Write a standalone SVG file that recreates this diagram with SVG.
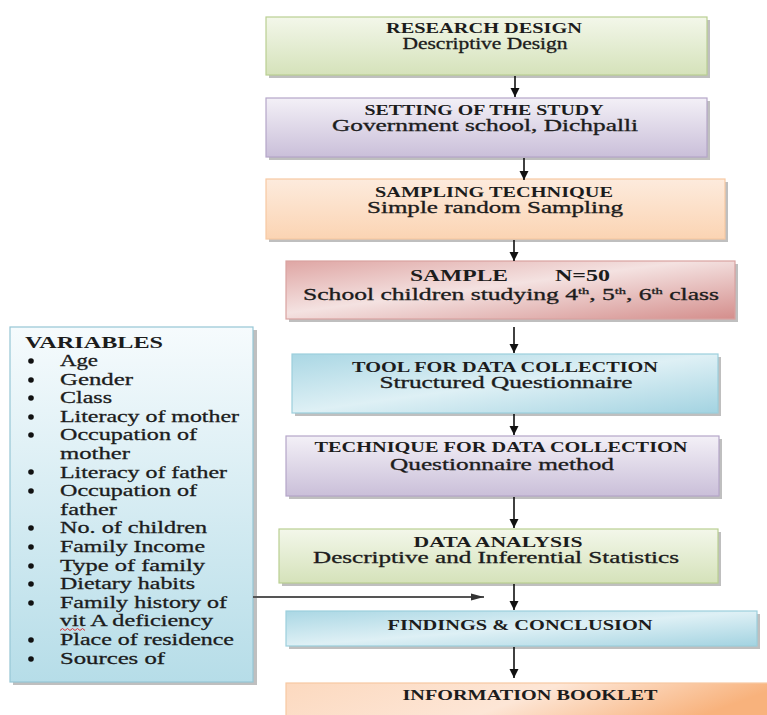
<svg xmlns="http://www.w3.org/2000/svg" width="767" height="715" viewBox="0 0 767 715">
<style>
text{font-family:"Liberation Serif","Times New Roman",serif;fill:#1c1c1c}
.h{font-weight:bold;font-size:15px}
.s{font-size:16px;stroke:#1c1c1c;stroke-width:0.3}
.v{font-size:17px;stroke:#1c1c1c;stroke-width:0.3}
.sh{fill:#8a8a8a;opacity:.55}
.bd{stroke-width:1.2}
.ar{stroke:#111;stroke-width:1.6;fill:none}
</style>
<defs>
<linearGradient id="gG" x1="0" y1="0" x2="0" y2="1"><stop offset="0" stop-color="#f3f7ea"/><stop offset="1" stop-color="#d5e2ba"/></linearGradient>
<linearGradient id="gP" x1="0" y1="0" x2="0" y2="1"><stop offset="0" stop-color="#f3f0f7"/><stop offset="1" stop-color="#cabfd9"/></linearGradient>
<linearGradient id="gO" x1="0" y1="0" x2="0" y2="1"><stop offset="0" stop-color="#fdebdd"/><stop offset="1" stop-color="#fbd4b3"/></linearGradient>
<linearGradient id="gO2" x1="0" y1="0" x2="1" y2="0.2"><stop offset="0" stop-color="#fcd9bf"/><stop offset="0.55" stop-color="#fde6d6"/><stop offset="1" stop-color="#f8b27c"/></linearGradient>
<linearGradient id="gR" x1="0" y1="0" x2="1" y2="1"><stop offset="0" stop-color="#dfa6a4"/><stop offset="0.45" stop-color="#f4e2e1"/><stop offset="1" stop-color="#d48e8c"/></linearGradient>
<linearGradient id="gB" x1="0" y1="0" x2="1" y2="1"><stop offset="0" stop-color="#aad7e4"/><stop offset="0.5" stop-color="#def0f5"/><stop offset="1" stop-color="#a3d3e1"/></linearGradient>
<linearGradient id="gV" x1="0" y1="0" x2="0" y2="1"><stop offset="0" stop-color="#f6fbfd"/><stop offset="1" stop-color="#b6dde8"/></linearGradient>
<marker id="ah" markerWidth="10" markerHeight="10" refX="9" refY="5" orient="auto" markerUnits="userSpaceOnUse"><path d="M0,0.5 L9,5 L0,9.5 Z" fill="#111"/></marker>
<marker id="ahg" markerWidth="14" markerHeight="10" refX="13" refY="5" orient="auto" markerUnits="userSpaceOnUse"><path d="M0,1.5 L13,5 L0,8.5 Z" fill="#333"/></marker>
</defs>
<rect width="767" height="715" fill="#ffffff"/>

<g id="variables">
<rect class="sh" x="13" y="330" width="244" height="355"/>
<rect x="10" y="327" width="243" height="355" fill="url(#gV)" stroke="#96c6d5" class="bd"/>
<text x="25" y="348" font-weight="bold" font-size="17" textLength="138" lengthAdjust="spacingAndGlyphs">VARIABLES</text>
<g fill="#111">
<circle cx="31" cy="361" r="2.8"/><circle cx="31" cy="380" r="2.8"/><circle cx="31" cy="398" r="2.8"/><circle cx="31" cy="417" r="2.8"/><circle cx="31" cy="435" r="2.8"/><circle cx="31" cy="472" r="2.8"/><circle cx="31" cy="491" r="2.8"/><circle cx="31" cy="528" r="2.8"/><circle cx="31" cy="547" r="2.8"/><circle cx="31" cy="566" r="2.8"/><circle cx="31" cy="584" r="2.8"/><circle cx="31" cy="603" r="2.8"/><circle cx="31" cy="640" r="2.8"/><circle cx="31" cy="659" r="2.8"/>
</g>
<text class="v" x="60" y="366" textLength="38" lengthAdjust="spacingAndGlyphs">Age</text>
<text class="v" x="60" y="384.6" textLength="73" lengthAdjust="spacingAndGlyphs">Gender</text>
<text class="v" x="60" y="403.2" textLength="52" lengthAdjust="spacingAndGlyphs">Class</text>
<text class="v" x="60" y="421.8" textLength="179" lengthAdjust="spacingAndGlyphs">Literacy of mother</text>
<text class="v" x="60" y="440.4" textLength="137" lengthAdjust="spacingAndGlyphs">Occupation of</text>
<text class="v" x="60" y="459" textLength="70" lengthAdjust="spacingAndGlyphs">mother</text>
<text class="v" x="60" y="477.6" textLength="167" lengthAdjust="spacingAndGlyphs">Literacy of father</text>
<text class="v" x="60" y="496.2" textLength="137" lengthAdjust="spacingAndGlyphs">Occupation of</text>
<text class="v" x="60" y="514.8" textLength="57" lengthAdjust="spacingAndGlyphs">father</text>
<text class="v" x="60" y="533.4" textLength="147" lengthAdjust="spacingAndGlyphs">No. of children</text>
<text class="v" x="60" y="552" textLength="145" lengthAdjust="spacingAndGlyphs">Family Income</text>
<text class="v" x="60" y="570.6" textLength="145" lengthAdjust="spacingAndGlyphs">Type of family</text>
<text class="v" x="60" y="589.2" textLength="135" lengthAdjust="spacingAndGlyphs">Dietary habits</text>
<text class="v" x="60" y="607.8" textLength="167" lengthAdjust="spacingAndGlyphs">Family history of</text>
<text class="v" x="60" y="626.4" textLength="153" lengthAdjust="spacingAndGlyphs">vit A deficiency</text>
<path d="M60,630.5 l2.5,-2 l2.5,2 l2.5,-2 l2.5,2 l2.5,-2 l2.5,2 l2.5,-2 l2.5,2 l2.5,-2 l2.5,2" fill="none" stroke="#e03030" stroke-width="1"/>
<text class="v" x="60" y="645" textLength="174" lengthAdjust="spacingAndGlyphs">Place of residence</text>
<text class="v" x="60" y="663.6" textLength="105" lengthAdjust="spacingAndGlyphs">Sources of</text>
</g>

<g id="research-design">
<rect class="sh" x="269" y="20" width="441" height="58"/>
<rect x="266" y="17" width="441" height="58" fill="url(#gG)" stroke="#b9cf92" class="bd"/>
<text class="h" x="484" y="33" text-anchor="middle" textLength="196" lengthAdjust="spacingAndGlyphs">RESEARCH DESIGN</text>
<text class="s" x="485" y="49" text-anchor="middle" textLength="165" lengthAdjust="spacingAndGlyphs">Descriptive Design</text>
</g>

<g id="setting">
<rect class="sh" x="269" y="101" width="441" height="59"/>
<rect x="266" y="98" width="441" height="59" fill="url(#gP)" stroke="#b5a6c9" class="bd"/>
<text class="h" x="484" y="115" text-anchor="middle" textLength="239" lengthAdjust="spacingAndGlyphs">SETTING OF THE STUDY</text>
<text class="s" x="485" y="131" text-anchor="middle" textLength="306" lengthAdjust="spacingAndGlyphs">Government school, Dichpalli</text>
</g>

<g id="sampling-technique">
<rect class="sh" x="269" y="182" width="459" height="60"/>
<rect x="266" y="179" width="459" height="60" fill="url(#gO)" stroke="#f7c9a2" class="bd"/>
<text class="h" x="494" y="197" text-anchor="middle" textLength="238" lengthAdjust="spacingAndGlyphs">SAMPLING TECHNIQUE</text>
<text class="s" x="495" y="213" text-anchor="middle" textLength="256" lengthAdjust="spacingAndGlyphs">Simple random Sampling</text>
</g>

<g id="sample">
<rect class="sh" x="289" y="264" width="449" height="58"/>
<rect x="286" y="261" width="449" height="58" fill="url(#gR)" stroke="#d9a2a0" class="bd"/>
<text x="410" y="281" font-weight="bold" font-size="16" textLength="98" lengthAdjust="spacingAndGlyphs">SAMPLE</text>
<text x="555" y="281" font-weight="bold" font-size="16" textLength="55" lengthAdjust="spacingAndGlyphs">N=50</text>
<text class="s" x="303" y="300" textLength="416" lengthAdjust="spacingAndGlyphs">School children studying 4<tspan font-size="9" dy="-6">th</tspan><tspan dy="6">, 5</tspan><tspan font-size="9" dy="-6">th</tspan><tspan dy="6">, 6</tspan><tspan font-size="9" dy="-6">th</tspan><tspan dy="6"> class</tspan></text>
</g>

<g id="tool">
<rect class="sh" x="295" y="357" width="426" height="59"/>
<rect x="292" y="354" width="426" height="59" fill="url(#gB)" stroke="#9ccfdd" class="bd"/>
<text class="h" x="505" y="372" text-anchor="middle" textLength="306" lengthAdjust="spacingAndGlyphs">TOOL FOR DATA COLLECTION</text>
<text class="s" x="506" y="388" text-anchor="middle" textLength="253" lengthAdjust="spacingAndGlyphs">Structured Questionnaire</text>
</g>

<g id="technique">
<rect class="sh" x="289" y="439" width="433" height="60"/>
<rect x="286" y="436" width="433" height="60" fill="url(#gP)" stroke="#b5a6c9" class="bd"/>
<text class="h" x="501" y="452" text-anchor="middle" textLength="373" lengthAdjust="spacingAndGlyphs">TECHNIQUE FOR DATA COLLECTION</text>
<text class="s" x="502" y="470" text-anchor="middle" textLength="224" lengthAdjust="spacingAndGlyphs">Questionnaire method</text>
</g>

<g id="data-analysis">
<rect class="sh" x="282" y="532" width="439" height="54"/>
<rect x="279" y="529" width="439" height="54" fill="url(#gG)" stroke="#b9cf92" class="bd"/>
<text class="h" x="498" y="547" text-anchor="middle" textLength="169" lengthAdjust="spacingAndGlyphs">DATA ANALYSIS</text>
<text class="s" x="496" y="563" text-anchor="middle" textLength="366" lengthAdjust="spacingAndGlyphs">Descriptive and Inferential Statistics</text>
</g>

<g id="findings">
<rect class="sh" x="289" y="614" width="471" height="35"/>
<rect x="286" y="611" width="471" height="35" fill="url(#gB)" stroke="#9ccfdd" class="bd"/>
<text class="h" x="520" y="630" text-anchor="middle" textLength="265" lengthAdjust="spacingAndGlyphs">FINDINGS &amp; CONCLUSION</text>
</g>

<g id="booklet">
<rect x="286" y="683" width="485" height="36" fill="url(#gO2)" stroke="#f7c9a2" class="bd"/>
<text class="h" x="530" y="700" text-anchor="middle" textLength="255" lengthAdjust="spacingAndGlyphs">INFORMATION BOOKLET</text>
</g>

<g id="connectors">
<line class="ar" x1="515" y1="76" x2="515" y2="97" marker-end="url(#ah)"/>
<line class="ar" x1="524" y1="158" x2="524" y2="180" marker-end="url(#ah)"/>
<line class="ar" x1="514" y1="240" x2="514" y2="261" marker-end="url(#ah)"/>
<line class="ar" x1="514" y1="327" x2="514" y2="353" marker-end="url(#ah)"/>
<line class="ar" x1="514" y1="414" x2="514" y2="435" marker-end="url(#ah)"/>
<line class="ar" x1="514" y1="497" x2="514" y2="528" marker-end="url(#ah)"/>
<line class="ar" x1="514" y1="584" x2="514" y2="610" marker-end="url(#ah)"/>
<line class="ar" x1="514" y1="647" x2="514" y2="678" marker-end="url(#ah)"/>
<line x1="253" y1="597" x2="484" y2="597" stroke="#555" stroke-width="2" marker-end="url(#ahg)"/>
</g>
</svg>
